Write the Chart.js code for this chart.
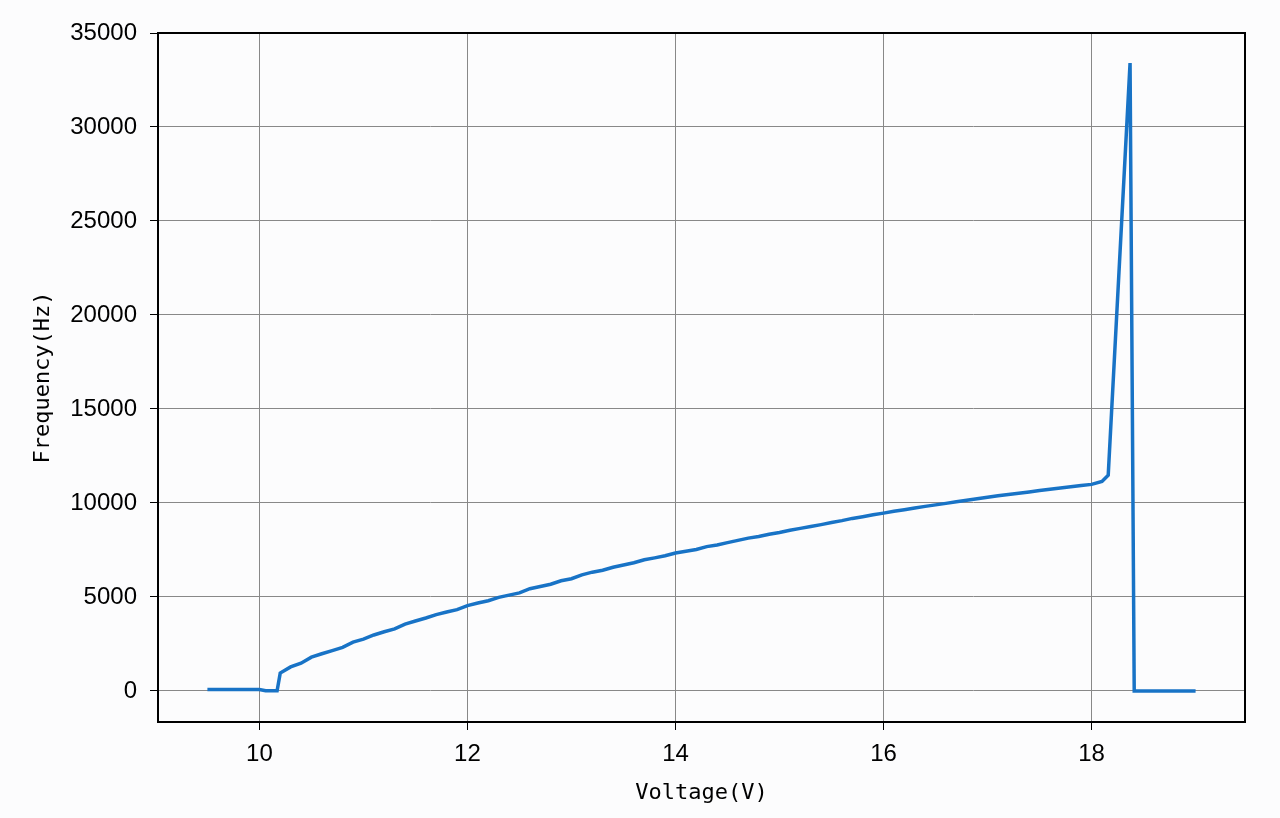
<!DOCTYPE html>
<html lang="en">
<head>
  <meta charset="UTF-8">
  <title>Frequency vs Voltage</title>
  <script src="https://cdn.jsdelivr.net/npm/chart.js"></script>
  <style>
    html, body { margin: 0; padding: 0; background: #fcfcfd; }
    #wrap { width: 1280px; height: 818px; }
  </style>
</head>
<body>
  <div id="wrap"><canvas id="myChart" width="1280" height="818"></canvas></div>

  <script>
    // Voltage (V) readings and measured frequency (Hz)
    const voltage = [
      9.5, 9.6, 9.7, 9.8, 9.9, 10.0, 10.06, 10.17, 10.2, 10.3, 10.4, 10.5, 10.6, 10.7, 10.8, 10.9,
      11.0, 11.1, 11.2, 11.3, 11.4, 11.5, 11.6, 11.7, 11.8, 11.9, 12.0, 12.1, 12.2, 12.3, 12.4,
      12.5, 12.6, 12.7, 12.8, 12.9, 13.0, 13.1, 13.2, 13.3, 13.4, 13.5, 13.6, 13.7, 13.8, 13.9,
      14.0, 14.1, 14.2, 14.3, 14.4, 14.5, 14.6, 14.7, 14.8, 14.9, 15.0, 15.1, 15.2, 15.3, 15.4,
      15.5, 15.6, 15.7, 15.8, 15.9, 16.0, 16.1, 16.2, 16.3, 16.4, 16.5, 16.6, 16.7, 16.8, 16.9,
      17.0, 17.1, 17.2, 17.3, 17.4, 17.5, 17.6, 17.7, 17.8, 17.9, 18.0, 18.1, 18.16, 18.37, 18.41,
      18.5, 18.6, 18.7, 18.8, 18.9, 19.0
    ];
    const frequency = [
      80, 80, 80, 80, 80, 80, 10, 10, 950, 1280, 1480, 1800, 1980, 2150, 2320, 2600,
      2760, 2980, 3150, 3300, 3560, 3720, 3880, 4060, 4200, 4330, 4540, 4680, 4800, 4980, 5100,
      5220, 5440, 5560, 5680, 5860, 5970, 6180, 6320, 6420, 6580, 6700, 6820, 6980, 7080, 7190,
      7340, 7430, 7530, 7680, 7770, 7890, 8010, 8130, 8220, 8340, 8430, 8550, 8650, 8750, 8850,
      8960, 9060, 9180, 9270, 9370, 9460, 9560, 9640, 9730, 9820, 9900, 9980, 10070, 10140, 10220,
      10300, 10380, 10450, 10520, 10590, 10660, 10730, 10800, 10860, 10930, 10990, 11150, 11480, 33400, 0,
      0, 0, 0, 0, 0, 0
    ];
    const xTicks = [10, 12, 14, 16, 18];
    const yTicks = [0, 5000, 10000, 15000, 20000, 25000, 30000, 35000];

    const tickFont = { family: "'Liberation Sans Narrow', 'Arial Narrow', 'Liberation Sans', sans-serif", size: 24 };
    const titleFont = { family: "'DejaVu Sans Mono', 'Liberation Mono', monospace", size: 22 };

    // draw the full box around the plot area (top and right sides too)
    const frameBox = {
      id: 'frameBox',
      afterDraw(chart) {
        const { ctx, chartArea: a } = chart;
        ctx.save();
        ctx.strokeStyle = '#000';
        ctx.lineWidth = 2;
        ctx.strokeRect(a.left, a.top, a.right - a.left, a.bottom - a.top);
        ctx.restore();
      }
    };

    const ctx = document.getElementById('myChart').getContext('2d');
    new Chart(ctx, {
      type: 'line',
      data: {
        datasets: [{
          data: voltage.map((v, i) => ({ x: v, y: frequency[i] })),
          borderColor: 'rgb(24, 115, 198)',
          borderWidth: 3.5,
          pointRadius: 0,
          tension: 0,
          fill: false
        }]
      },
      options: {
        responsive: false,
        animation: false,
        layout: { padding: { top: 33, right: 35, left: 0, bottom: 0 } },
        plugins: { legend: { display: false }, tooltip: { enabled: false } },
        scales: {
          x: {
            type: 'linear',
            min: 9.025,
            max: 19.475,
            afterBuildTicks: s => { s.ticks = xTicks.map(v => ({ value: v })); },
            afterFit: s => { s.height = 96; },
            grid: { color: '#888', lineWidth: 1, tickColor: '#000', tickLength: 8 },
            border: { color: '#000', width: 2 },
            ticks: { color: '#000', font: tickFont, padding: 10, maxRotation: 0, callback: v => String(v) },
            title: { display: true, text: 'Voltage(V)', color: '#000', font: titleFont, padding: { top: 0, bottom: 12 } }
          },
          y: {
            type: 'linear',
            min: -1650,
            max: 35000,
            afterBuildTicks: s => { s.ticks = yTicks.map(v => ({ value: v })); },
            afterFit: s => { s.width = 158; },
            grid: { color: '#888', lineWidth: 1, tickColor: '#000', tickLength: 8 },
            border: { color: '#000', width: 2 },
            ticks: { color: '#000', font: tickFont, padding: 13, callback: v => String(v) },
            title: { display: true, text: 'Frequency(Hz)', color: '#000', font: titleFont, padding: { top: 30, bottom: 0 } }
          }
        }
      },
      plugins: [frameBox]
    });
  </script>
</body>
</html>
